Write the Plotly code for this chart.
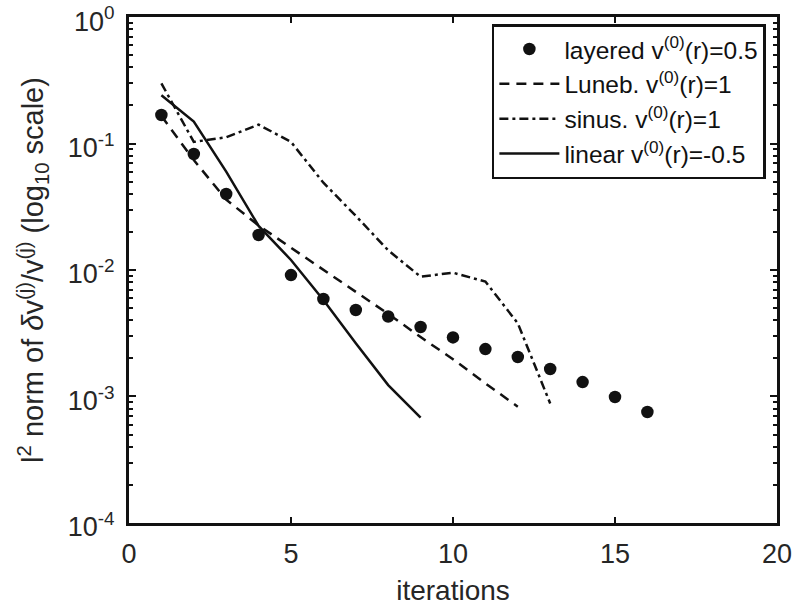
import plotly.graph_objects as go

# ---- data ----
iters_layered = list(range(1, 17))
layered = [0.168, 0.0826, 0.0399, 0.0189, 0.00912, 0.00590, 0.00483, 0.00429,
           0.00354, 0.00293, 0.00237, 0.00205, 0.00165, 0.00130, 0.00099, 0.000754]

iters_luneb = list(range(1, 13))
luneb = [0.165, 0.074, 0.036, 0.0225, 0.0150, 0.0100, 0.0067, 0.0045,
         0.00295, 0.00197, 0.00127, 0.00083]

iters_sinus = list(range(1, 14))
sinus = [0.299, 0.103, 0.112, 0.141, 0.103, 0.049, 0.0268, 0.0143,
         0.00885, 0.00952, 0.0081, 0.00379, 0.00088]

iters_linear = list(range(1, 10))
linear = [0.241, 0.149, 0.060, 0.0223, 0.012, 0.0058, 0.00263, 0.00123, 0.00068]

names = ["layered v<sup>(0)</sup>(r)=0.5",
         "Luneb. v<sup>(0)</sup>(r)=1",
         "sinus. v<sup>(0)</sup>(r)=1",
         "linear v<sup>(0)</sup>(r)=-0.5"]

x_ticks = [0, 5, 10, 15, 20]
y_tickvals = [1e-4, 1e-3, 1e-2, 1e-1, 1e0]
y_ticktext = ["10<sup>-4</sup>", "10<sup>-3</sup>", "10<sup>-2</sup>",
              "10<sup>-1</sup>", "10<sup>0</sup>"]

INK = "#111111"
TXT = "#262626"
FONT = "Liberation Sans, Arial, sans-serif"

fig = go.Figure()
fig.add_trace(go.Scatter(x=iters_layered, y=layered, mode="markers", name=names[0],
                         marker=dict(symbol="circle", size=12.5, color=INK)))
fig.add_trace(go.Scatter(x=iters_luneb, y=luneb, mode="lines", name=names[1],
                         line=dict(color=INK, width=2.5, dash="10px,7px")))
fig.add_trace(go.Scatter(x=iters_sinus, y=sinus, mode="lines", name=names[2],
                         line=dict(color=INK, width=2.5, dash="9px,4px,3px,4px")))
fig.add_trace(go.Scatter(x=iters_linear, y=linear, mode="lines", name=names[3],
                         line=dict(color=INK, width=2.5)))

fig.update_layout(
    width=793, height=610,
    margin=dict(l=129, r=16, t=17, b=87, autoexpand=False),
    paper_bgcolor="white", plot_bgcolor="white",
    font=dict(family=FONT, size=27, color=TXT),
    showlegend=True,
    legend=dict(x=0.56, y=0.986, xanchor="left", yanchor="top",
                bgcolor="white", bordercolor=INK, borderwidth=2.5,
                font=dict(size=24.5, color=INK), tracegroupgap=0,
                itemwidth=60),
    xaxis=dict(range=[0, 20], tickvals=x_ticks, ticks="inside", ticklen=6,
               tickwidth=2, tickcolor=INK, automargin=False,
               showline=True, linewidth=3, linecolor=INK, mirror="ticks",
               showgrid=False, zeroline=False, ticklabeloverflow="allow",
               ticklabelstandoff=5, tickfont=dict(size=27),
               title=dict(text="iterations", standoff=12,
                          font=dict(size=28, color=TXT))),
    yaxis=dict(type="log", range=[-4.0005, 0.0005], tickvals=y_tickvals, ticktext=y_ticktext,
               ticks="inside", ticklen=7, tickwidth=2, tickcolor=INK, automargin=False,
               minor=dict(ticks="inside", ticklen=4, tickwidth=1.5, tickcolor=INK,
                          dtick="D1", showgrid=False),
               showline=True, linewidth=3, linecolor=INK, mirror="ticks",
               showgrid=False, zeroline=False, ticklabeloverflow="allow",
               ticklabelstandoff=6, ticklabelshift=4, tickfont=dict(size=27),
               title=dict(text="l<sup>2</sup> norm of <i>δ</i>v<sup>(j)</sup>/v<sup>(j)</sup> (log<sub>10</sub> scale)",
                          standoff=16, font=dict(size=29, color=TXT))),
)

fig.write_html(
    "out.html",
    config={"displayModeBar": False},
    post_script="document.body.style.margin='0px';document.body.style.overflow='hidden';",
)
